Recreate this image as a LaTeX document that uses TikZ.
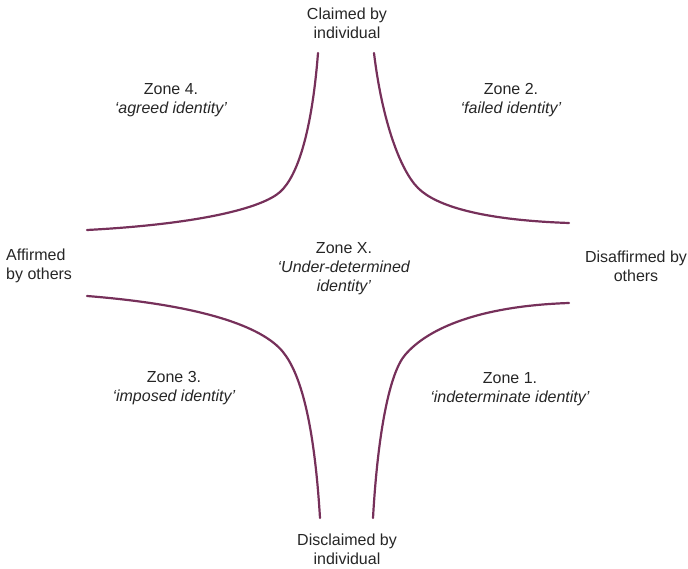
\documentclass[tikz,border=0pt]{standalone}
\usepackage{fontspec}
\setmainfont{Liberation Sans}
\definecolor{curvecol}{RGB}{118,48,90}
\definecolor{labelcol}{RGB}{38,38,38}
\begin{document}
\begin{tikzpicture}[x=1pt,y=-1pt,
  curve/.style={draw=curvecol,line width=2.2pt,line cap=round},
  lbl/.style={text=labelcol,align=center,inner sep=0pt,font=\fontsize{16}{19}\selectfont}]
\useasboundingbox (0,0) rectangle (688,569);

% axis labels
\node[lbl] (claimed) at (347,23) {Claimed by\\individual};
\node[lbl] (disclaimed) at (347,549.5) {Disclaimed by\\individual};
\node[lbl,align=left,anchor=west] (affirmed) at (6,266) {Affirmed\\by others};
\node[lbl] (disaffirmed) at (636,266) {Disaffirmed by\\others};

% zone labels
\node[lbl] (z4) at (171,100) {Zone 4.\\\textit{‘agreed identity’}};
\node[lbl] (z2) at (511,100) {Zone 2.\\\textit{‘failed identity’}};
\node[lbl] (z3) at (174,388) {Zone 3.\\\textit{‘imposed identity’}};
\node[lbl] (z1) at (510,389) {Zone 1.\\\textit{‘indeterminate identity’}};
\node[lbl] (zx) at (344,269) {Zone X.\\\textit{‘Under-determined}\\\textit{identity’}};

% boundary curves (two cubic pieces each, joined smoothly at the knee)
\coordinate (k4) at (280,192);
\coordinate (k2) at (418,188);
\coordinate (k3) at (283,352);
\coordinate (k1) at (405,355);
\draw[curve] (87,230) .. controls (200,224) and (262,208) .. (k4)
  .. controls (298,176) and (312,130) .. (318,53);
\draw[curve] (374,53) .. controls (382,120) and (400,170) .. (k2)
  .. controls (436,206) and (482,220) .. (569,223);
\draw[curve] (87,296) .. controls (200,305) and (262,326) .. (k3)
  .. controls (300,373) and (314,420) .. (320,518);
\draw[curve] (569,303) .. controls (480,306) and (428,328) .. (k1)
  .. controls (390,372.6) and (378,430) .. (373,518);
\end{tikzpicture}
\end{document}
